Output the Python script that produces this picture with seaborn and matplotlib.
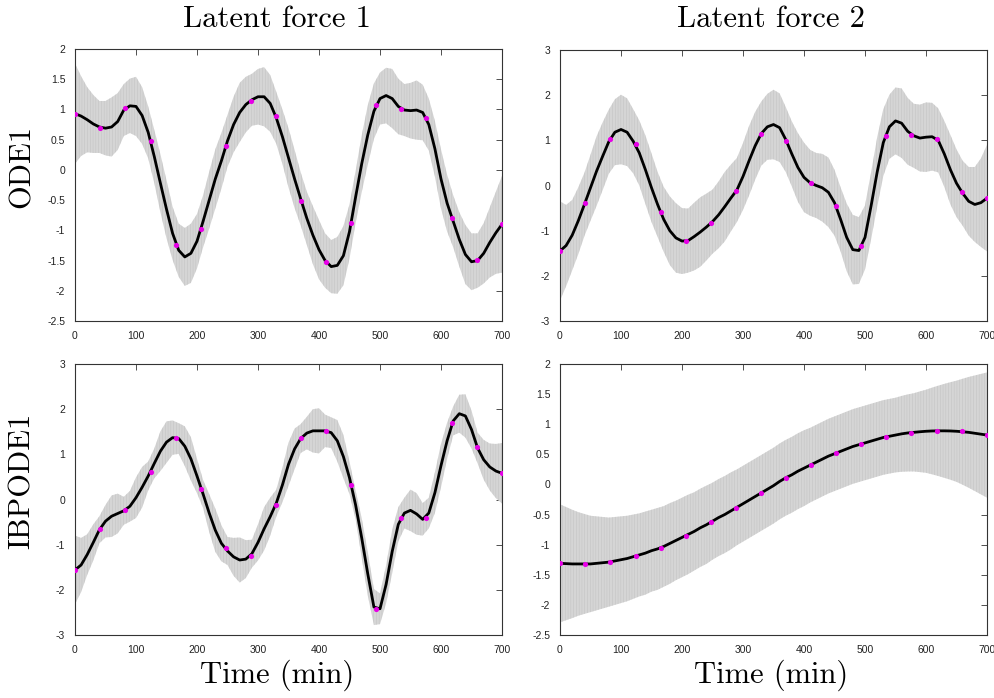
import numpy as np
import pandas as pd
import matplotlib
matplotlib.use("Agg")
import matplotlib.pyplot as plt
import seaborn as sns

# ---------------- data ----------------
t_grid = list(range(0, 701, 10))
t_obs = [0, 41, 82, 124, 165, 206, 247, 288, 329, 371, 412, 453, 494, 535, 576, 618, 659, 700]

# Latent force 1 / ODE1
mean_11 = [0.93, 0.89, 0.83, 0.76, 0.71, 0.69, 0.71, 0.80, 0.99, 1.06, 1.05, 0.90, 0.62, 0.22, -0.22,
           -0.65, -1.05, -1.33, -1.44, -1.38, -1.18, -0.85, -0.50, -0.15, 0.15, 0.48, 0.75, 0.95, 1.08,
           1.16, 1.21, 1.21, 1.10, 0.86, 0.55, 0.20, -0.15, -0.48, -0.80, -1.08, -1.32, -1.50, -1.60,
           -1.58, -1.42, -1.02, -0.45, 0.10, 0.58, 0.97, 1.18, 1.23, 1.18, 1.05, 0.99, 0.98, 0.99, 0.95,
           0.75, 0.35, -0.15, -0.55, -0.85, -1.15, -1.40, -1.52, -1.50, -1.38, -1.20, -1.04, -0.90]
hw_11 = [0.83, 0.66, 0.54, 0.48, 0.43, 0.45, 0.49, 0.47, 0.43, 0.45, 0.49, 0.47, 0.43, 0.44, 0.48,
         0.48, 0.44, 0.44, 0.48, 0.49, 0.45, 0.43, 0.47, 0.49, 0.46, 0.43, 0.46, 0.49, 0.46, 0.43,
         0.46, 0.49, 0.47, 0.43, 0.45, 0.49, 0.48, 0.44, 0.44, 0.48, 0.49, 0.45, 0.44, 0.47, 0.49,
         0.45, 0.43, 0.47, 0.49, 0.46, 0.43, 0.46, 0.49, 0.46, 0.43, 0.46, 0.49, 0.46, 0.43, 0.46,
         0.49, 0.47, 0.43, 0.45, 0.49, 0.47, 0.45, 0.50, 0.58, 0.68, 0.80]
obs_11 = [0.925, 0.70, 1.02, 0.47, -1.25, -0.975, 0.39, 1.14, 0.885, -0.52, -1.53, -0.88, 1.08,
          1.00, 0.86, -0.79, -1.49, -0.90]

# Latent force 2 / ODE1
mean_12 = [-1.45, -1.33, -1.10, -0.78, -0.42, -0.05, 0.32, 0.65, 0.97, 1.18, 1.24, 1.18, 0.98, 0.72,
           0.35, -0.05, -0.42, -0.75, -1.00, -1.16, -1.23, -1.22, -1.13, -1.03, -0.92, -0.80, -0.65,
           -0.47, -0.28, -0.10, 0.20, 0.55, 0.88, 1.15, 1.30, 1.35, 1.28, 1.02, 0.70, 0.40, 0.18, 0.06,
           0.00, -0.05, -0.15, -0.38, -0.75, -1.15, -1.42, -1.44, -1.15, -0.45, 0.30, 0.95, 1.30, 1.43,
           1.38, 1.20, 1.10, 1.05, 1.07, 1.08, 1.00, 0.70, 0.35, 0.05, -0.17, -0.35, -0.42, -0.38, -0.28]
hw_12 = [1.10, 0.90, 0.78, 0.74, 0.70, 0.73, 0.77, 0.75, 0.71, 0.73, 0.77, 0.75, 0.71, 0.72, 0.76,
         0.76, 0.72, 0.72, 0.76, 0.77, 0.73, 0.71, 0.75, 0.77, 0.74, 0.71, 0.74, 0.77, 0.74, 0.71,
         0.74, 0.77, 0.75, 0.71, 0.73, 0.77, 0.76, 0.72, 0.72, 0.76, 0.77, 0.73, 0.72, 0.75, 0.77,
         0.73, 0.71, 0.75, 0.77, 0.74, 0.71, 0.74, 0.77, 0.74, 0.71, 0.74, 0.77, 0.74, 0.71, 0.74,
         0.77, 0.75, 0.71, 0.73, 0.77, 0.75, 0.72, 0.76, 0.83, 0.98, 1.18]
obs_12 = [-1.45, -0.39, 1.03, 0.91, -0.58, -1.23, -0.84, -0.13, 1.14, 0.99, 0.05, -0.45, -1.35,
          1.10, 1.12, 1.04, -0.14, -0.28]

# Latent force 1 / IBPODE1
mean_21 = [-1.56, -1.45, -1.22, -0.95, -0.67, -0.48, -0.37, -0.31, -0.25, -0.15, 0.04, 0.27, 0.52,
           0.80, 1.07, 1.27, 1.37, 1.35, 1.18, 0.90, 0.52, 0.12, -0.30, -0.68, -0.97, -1.14, -1.27,
           -1.34, -1.32, -1.20, -0.95, -0.65, -0.38, -0.08, 0.32, 0.78, 1.12, 1.35, 1.47, 1.52, 1.52,
           1.52, 1.48, 1.30, 0.95, 0.48, -0.12, -0.85, -1.65, -2.38, -2.42, -1.88, -1.15, -0.55, -0.30,
           -0.24, -0.32, -0.44, -0.30, 0.15, 0.75, 1.30, 1.74, 1.90, 1.85, 1.55, 1.14, 0.88, 0.72,
           0.63, 0.58]
hw_21 = [0.76, 0.60, 0.45, 0.40, 0.30, 0.36, 0.46, 0.44, 0.31, 0.34, 0.45, 0.45, 0.32, 0.33, 0.44,
         0.46, 0.38, 0.34, 0.44, 0.48, 0.38, 0.31, 0.42, 0.48, 0.40, 0.31, 0.42, 0.50, 0.42, 0.31,
         0.40, 0.48, 0.42, 0.30, 0.38, 0.48, 0.45, 0.32, 0.36, 0.48, 0.50, 0.36, 0.34, 0.46, 0.48,
         0.36, 0.32, 0.44, 0.48, 0.40, 0.34, 0.42, 0.48, 0.38, 0.34, 0.46, 0.46, 0.36, 0.34, 0.45,
         0.48, 0.40, 0.32, 0.42, 0.48, 0.42, 0.34, 0.44, 0.52, 0.60, 0.67]
obs_21 = [-1.56, -0.65, -0.23, 0.61, 1.37, 0.24, -1.07, -1.24, -0.12, 1.37, 1.52, 0.33, -2.43,
          -0.42, -0.40, 1.69, 1.16, 0.58]

# Latent force 2 / IBPODE1
mean_22 = [-1.31, -1.315, -1.32, -1.32, -1.32, -1.32, -1.31, -1.30, -1.29, -1.27, -1.25, -1.23,
           -1.20, -1.17, -1.14, -1.10, -1.07, -1.03, -0.98, -0.93, -0.88, -0.83, -0.78, -0.72, -0.67,
           -0.61, -0.55, -0.50, -0.44, -0.38, -0.32, -0.26, -0.20, -0.14, -0.08, -0.02, 0.05, 0.11,
           0.16, 0.22, 0.27, 0.32, 0.37, 0.42, 0.47, 0.51, 0.55, 0.59, 0.63, 0.66, 0.69, 0.72, 0.75,
           0.78, 0.80, 0.82, 0.84, 0.855, 0.865, 0.875, 0.883, 0.888, 0.89, 0.89, 0.888, 0.883, 0.875,
           0.865, 0.85, 0.835, 0.82]
hw_22 = [0.98, 0.94, 0.90, 0.86, 0.83, 0.80, 0.78, 0.76, 0.74, 0.73, 0.72, 0.71, 0.70, 0.69, 0.69,
         0.68, 0.68, 0.67, 0.67, 0.66, 0.66, 0.66, 0.65, 0.65, 0.65, 0.64, 0.64, 0.64, 0.64, 0.63,
         0.63, 0.63, 0.63, 0.63, 0.63, 0.63, 0.63, 0.63, 0.63, 0.63, 0.63, 0.62, 0.62, 0.62, 0.62,
         0.62, 0.62, 0.62, 0.62, 0.62, 0.62, 0.62, 0.62, 0.62, 0.62, 0.62, 0.63, 0.64, 0.65, 0.67,
         0.69, 0.72, 0.75, 0.78, 0.81, 0.84, 0.88, 0.92, 0.96, 1.00, 1.04]
obs_22 = [-1.31, -1.32, -1.29, -1.19, -1.05, -0.85, -0.63, -0.39, -0.14, 0.11, 0.33, 0.53, 0.67,
          0.79, 0.86, 0.89, 0.88, 0.82]

col_titles = ["Latent force 1", "Latent force 2"]
row_titles = ["ODE1", "IBPODE1"]
x_label = "Time (min)"
x_ticks = [0, 100, 200, 300, 400, 500, 600, 700]
x_ticklabels = ["0", "100", "200", "300", "400", "500", "600", "700"]
yt_half = [-2.5, -2, -1.5, -1, -0.5, 0, 0.5, 1, 1.5, 2]
yt_half_lab = ["-2.5", "-2", "-1.5", "-1", "-0.5", "0", "0.5", "1", "1.5", "2"]
yt_one = [-3, -2, -1, 0, 1, 2, 3]
yt_one_lab = ["-3", "-2", "-1", "0", "1", "2", "3"]

panels = [
    dict(mean=mean_11, hw=hw_11, obs=obs_11, yt=yt_half, ytl=yt_half_lab, ylim=(-2.5, 2)),
    dict(mean=mean_12, hw=hw_12, obs=obs_12, yt=yt_one, ytl=yt_one_lab, ylim=(-3, 3)),
    dict(mean=mean_21, hw=hw_21, obs=obs_21, yt=yt_one, ytl=yt_one_lab, ylim=(-3, 3)),
    dict(mean=mean_22, hw=hw_22, obs=obs_22, yt=yt_half, ytl=yt_half_lab, ylim=(-2.5, 2)),
]

# ---------------- style ----------------
sns.set_style("white")
plt.rcParams["font.family"] = ["Liberation Sans", "DejaVu Sans"]
plt.rcParams["axes.unicode_minus"] = False
plt.rcParams["hatch.linewidth"] = 0.35

W, H = 995, 698
fig = plt.figure(figsize=(W / 100, H / 100), dpi=100)

# axes boxes in pixel coordinates: left, top, right, bottom
boxes = [(75, 49, 502, 321), (560, 50, 987, 321), (75, 364, 502, 635), (560, 364, 987, 635)]

serif = dict(family="cmr10", size=22, color="black")

for p, (l, t, r, b) in zip(panels, boxes):
    ax = fig.add_axes([l / W, 1 - b / H, (r - l) / W, (b - t) / H])
    m = np.array(p["mean"])
    h = np.array(p["hw"])
    ax.fill_between(t_grid, m - h, m + h, facecolor="#d5d5d5", edgecolor="#c2c2c2",
                    hatch="||||||", linewidth=0, zorder=1)
    df = pd.DataFrame({"t": t_grid, "mean": m})
    sns.lineplot(data=df, x="t", y="mean", ax=ax, color="black", linewidth=2.0, zorder=3)
    dfo = pd.DataFrame({"t": t_obs, "y": p["obs"]})
    sns.scatterplot(data=dfo, x="t", y="y", ax=ax, color="#e600e6", s=14, marker="o",
                    linewidth=0, zorder=4)
    ax.set_xlim(0, 700)
    ax.set_ylim(*p["ylim"])
    ax.set_xticks(x_ticks)
    ax.set_xticklabels(x_ticklabels)
    ax.set_yticks(p["yt"])
    ax.set_yticklabels(p["ytl"])
    ax.set_xlabel("")
    ax.set_ylabel("")
    ax.tick_params(direction="in", top=True, right=True, length=4, width=0.6,
                   labelsize=7.5, pad=7, colors="#333333", labelcolor="#222222")
    for s in ax.spines.values():
        s.set_linewidth(0.8)
        s.set_color("#333333")

fig.text(277 / W, 1 - 19 / H, col_titles[0], ha="center", va="center", **serif)
fig.text(771 / W, 1 - 19 / H, col_titles[1], ha="center", va="center", **serif)
fig.text(22 / W, 1 - 166 / H, row_titles[0], ha="center", va="center", rotation=90, **serif)
fig.text(22 / W, 1 - 481 / H, row_titles[1], ha="center", va="center", rotation=90, **serif)
fig.text(277 / W, 1 - 675 / H, x_label, ha="center", va="center", **serif)
fig.text(771 / W, 1 - 675 / H, x_label, ha="center", va="center", **serif)

fig.savefig("out.png", dpi=100)
